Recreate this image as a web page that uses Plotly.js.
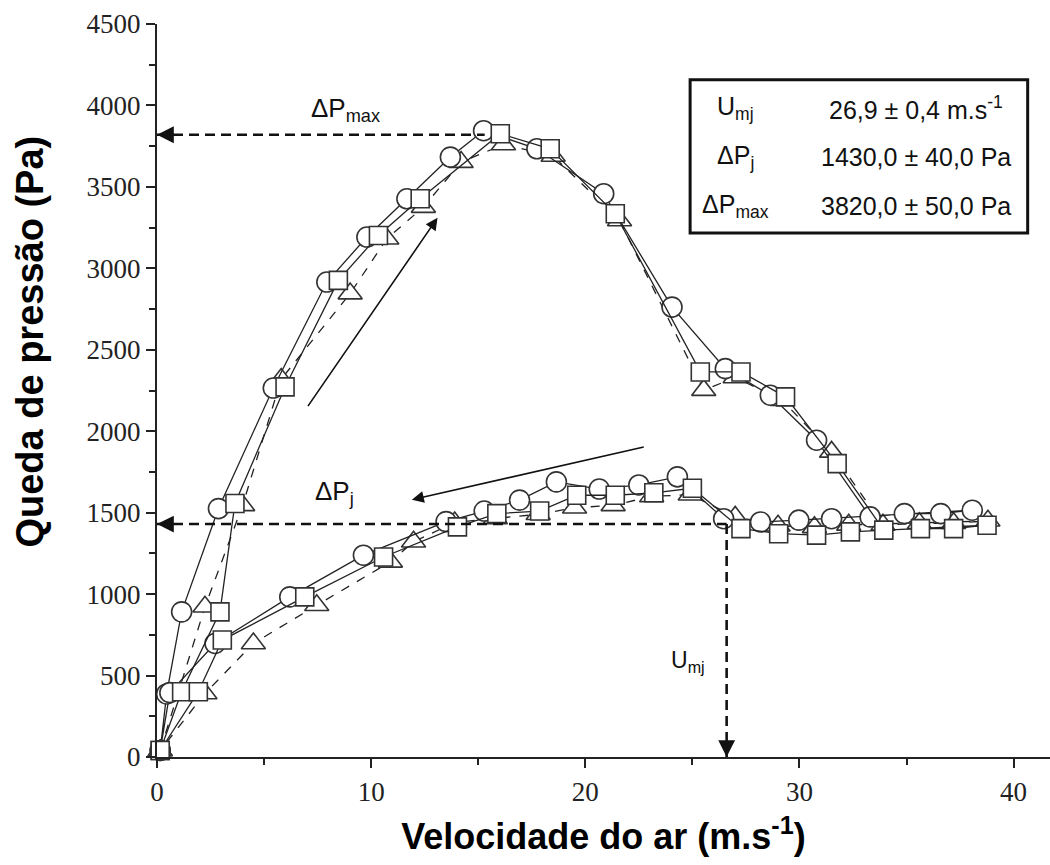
<!DOCTYPE html>
<html>
<head>
<meta charset="utf-8">
<script src="https://cdn.plot.ly/plotly-3.0.1.min.js"></script>
<style>html,body{margin:0;padding:0;background:#fff;}#chart{width:1050px;height:865px;}</style>
</head>
<body>
<div id="chart"></div>
<script>
// ---- data ----
const circleV = [0.15,0.45,1.15,2.87,5.43,7.93,9.8,11.67,13.7,15.25,17.74,20.86,24.05,26.54,28.64,30.8,33.3,34.9,36.6,38.07,
                 31.5,29.97,28.18,26.46,24.3,22.5,20.65,18.65,16.93,15.28,13.5,9.64,6.2,2.71,0.6,0.15];
const circleP = [40,387,891,1525,2265,2916,3192,3427,3683,3845,3734,3458,2762,2384,2221,1945,1474,1494,1494,1515,
                 1463,1454,1443,1463,1720,1670,1645,1689,1577,1510,1445,1239,983,697,395,40];

const squareV = [0.15,1.15,2.94,3.64,5.98,8.47,10.34,12.29,16.03,18.36,21.4,25.37,27.27,29.35,31.76,33.94,35.65,37.2,38.76,
                 32.38,30.8,29.03,27.27,25.0,23.2,21.4,19.6,17.87,15.87,14.03,10.58,6.9,3.05,1.93,0.15];
const squareP = [40,401,891,1556,2272,2926,3202,3427,3826,3734,3335,2364,2364,2211,1801,1393,1402,1402,1423,
                 1382,1362,1371,1402,1650,1622,1607,1607,1510,1494,1413,1228,983,718,401,40];

const triangleV = [0.15,2.24,4.0,5.8,9.02,10.73,12.44,14.2,16.18,18.5,21.6,25.53,27.0,29.2,31.5,33.9,35.6,37.2,38.8,
                   32.3,30.7,29.0,27.0,24.9,23.1,21.3,19.5,17.8,15.8,13.9,11.98,10.9,7.46,4.5,2.24,0.15];
const triangleP = [40,922,1545,2320,2845,3182,3376,3652,3760,3690,3294,2252,2330,2190,1873,1425,1435,1435,1450,
                   1425,1410,1420,1474,1610,1600,1545,1530,1490,1465,1440,1321,1198,932,697,390,40];

const xTicks = [0,10,20,30,40];
const yTicks = [0,500,1000,1500,2000,2500,3000,3500,4000,4500];

const dPmax = 3820;     // ΔPmax (Pa)
const dPj = 1430;       // ΔPj (Pa)
const Umj = 26.6;       // position of Umj marker line as drawn
const tableLabels = ['U<sub>mj</sub>', 'ΔP<sub>j</sub>', 'ΔP<sub>max</sub>'];
const tableValues = ['26,9 ± 0,4 m.s<sup>-1</sup>', '1430,0 ± 40,0 Pa', '3820,0 ± 50,0 Pa'];

// ---- traces ----
const lineCol = '#222';
function series(x, y, symbol, size, dash) {
  return {
    x: x, y: y, type: 'scatter', mode: 'lines+markers', cliponaxis: false,
    line: {color: lineCol, width: 1.3, dash: dash},
    marker: {symbol: symbol, size: size, color: '#fff', line: {color: '#333', width: 1.6}},
    showlegend: false, hoverinfo: 'skip'
  };
}
const dashLine = {color: '#111', width: 2.6, dash: '10px,6px'};
const traces = [
  series(triangleV, triangleP, 'triangle-up', 21, 'dash'),
  series(circleV, circleP, 'circle', 20, 'solid'),
  series(squareV, squareP, 'square', 18, 'solid'),
  {x: [0, 15.3], y: [dPmax, dPmax], type: 'scatter', mode: 'lines', cliponaxis: false, line: dashLine, showlegend: false, hoverinfo: 'skip'},
  {x: [0, Umj], y: [dPj, dPj], type: 'scatter', mode: 'lines', cliponaxis: false, line: dashLine, showlegend: false, hoverinfo: 'skip'},
  {x: [Umj, Umj], y: [dPj, 0], type: 'scatter', mode: 'lines', cliponaxis: false, line: dashLine, showlegend: false, hoverinfo: 'skip'}
];

const sans = '"Liberation Sans", Arial, Helvetica, sans-serif';
const serif = '"Liberation Serif", "Times New Roman", Times, serif';
const annotations = [
  {x: 0, y: dPmax, xref: 'x', yref: 'y', ax: 16, ay: 0, showarrow: true, arrowhead: 2, arrowsize: 1.4, arrowwidth: 2.4, arrowcolor: '#111', text: ''},
  {x: 0, y: dPj, xref: 'x', yref: 'y', ax: 16, ay: 0, showarrow: true, arrowhead: 2, arrowsize: 1.4, arrowwidth: 2.4, arrowcolor: '#111', text: ''},
  {x: Umj, y: 0, xref: 'x', yref: 'y', ax: 0, ay: -16, showarrow: true, arrowhead: 2, arrowsize: 1.4, arrowwidth: 2.4, arrowcolor: '#111', text: ''},
  {x: 13.1, y: 3310, ax: 7.0, ay: 2145, xref: 'x', yref: 'y', axref: 'x', ayref: 'y', showarrow: true, arrowhead: 2, arrowsize: 1.5, arrowwidth: 1.6, arrowcolor: '#111', text: ''},
  {x: 11.9, y: 1580, ax: 22.8, ay: 1905, xref: 'x', yref: 'y', axref: 'x', ayref: 'y', showarrow: true, arrowhead: 2, arrowsize: 1.5, arrowwidth: 1.6, arrowcolor: '#111', text: ''},
  {x: 8.8, y: 3975, xref: 'x', yref: 'y', showarrow: false, text: 'ΔP<sub>max</sub>', font: {family: sans, size: 26, color: '#111'}},
  {x: 8.27, y: 1625, xref: 'x', yref: 'y', showarrow: false, text: 'ΔP<sub>j</sub>', font: {family: sans, size: 26, color: '#111'}},
  {x: 24.8, y: 585, xref: 'x', yref: 'y', showarrow: false, text: 'U<sub>mj</sub>', font: {family: sans, size: 23, color: '#111'}},
  // y-axis title
  {x: -0.142, y: 0.567, xref: 'paper', yref: 'paper', xanchor: 'center', yanchor: 'middle', textangle: -90, showarrow: false,
   text: '<b>Queda de pressão (Pa)</b>', font: {family: sans, size: 38, color: '#000'}}
];
const rowY = [0.885, 0.818, 0.752];
for (let i = 0; i < tableLabels.length; i++) {
  annotations.push({x: 0.648, y: rowY[i], xref: 'paper', yref: 'paper', xanchor: 'center', yanchor: 'middle', showarrow: false, text: tableLabels[i], font: {family: sans, size: 25, color: '#111'}});
  annotations.push({x: 0.85, y: rowY[i], xref: 'paper', yref: 'paper', xanchor: 'center', yanchor: 'middle', showarrow: false, text: tableValues[i], font: {family: sans, size: 25, color: '#111'}});
}

const layout = {
  width: 1050, height: 865,
  margin: {l: 157, r: 0, t: 24, b: 108},
  paper_bgcolor: '#fff', plot_bgcolor: '#fff',
  font: {family: serif},
  xaxis: {
    range: [0, 41.7], tickvals: xTicks, ticktext: xTicks.map(String),
    showgrid: false, zeroline: false, showline: true, linecolor: '#222', linewidth: 2.2,
    ticks: 'outside', ticklen: 9, tickwidth: 2, tickcolor: '#222',
    minor: {dtick: 5, ticks: 'outside', ticklen: 6, tickwidth: 2, tickcolor: '#222'},
    tickfont: {family: serif, size: 27, color: '#222'},
    title: {text: 'Velocidade do ar (m.s<sup>-1</sup>)', standoff: 18,
            font: {family: sans, size: 36, color: '#000', weight: 'bold'}}
  },
  yaxis: {
    range: [0, 4500], tickvals: yTicks, ticktext: yTicks.map(String),
    showgrid: false, zeroline: false, showline: true, linecolor: '#222', linewidth: 2.2,
    ticks: 'outside', ticklen: 9, tickwidth: 2, tickcolor: '#222',
    minor: {dtick: 250, ticks: 'outside', ticklen: 6, tickwidth: 2, tickcolor: '#222'},
    tickfont: {family: serif, size: 27, color: '#222'}
  },
  shapes: [
    {type: 'rect', xref: 'paper', yref: 'paper', x0: 0.597, x1: 0.975, y0: 0.715, y1: 0.924,
     line: {color: '#111', width: 3}, fillcolor: 'rgba(0,0,0,0)'}
  ],
  annotations: annotations
};

Plotly.newPlot('chart', traces, layout, {staticPlot: true, displayModeBar: false});
</script>
</body>
</html>
